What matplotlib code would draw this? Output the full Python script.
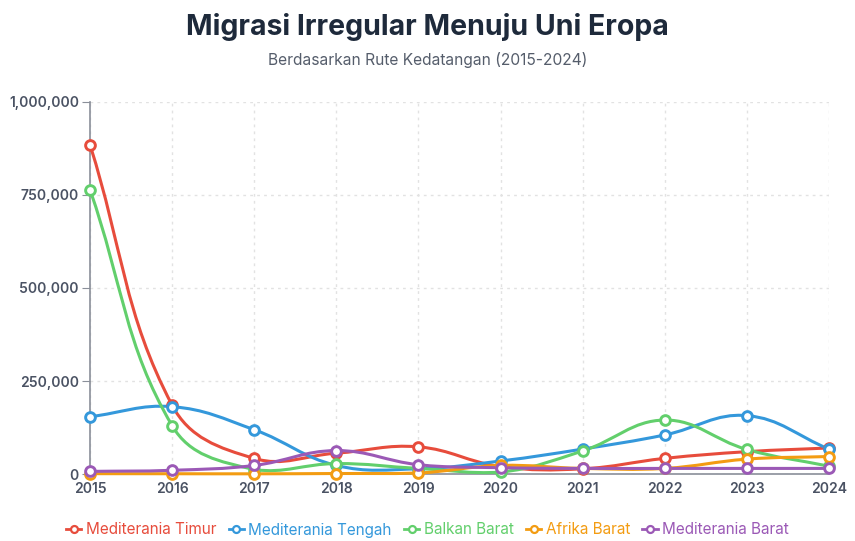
import numpy as np
import matplotlib
matplotlib.use("Agg")
import matplotlib.pyplot as plt
from matplotlib.path import Path
from matplotlib.patches import PathPatch
from matplotlib.lines import Line2D
from matplotlib.ticker import FuncFormatter

years = [2015, 2016, 2017, 2018, 2019, 2020, 2021, 2022, 2023, 2024]
series_names = ["Mediterania Timur", "Mediterania Tengah", "Balkan Barat", "Afrika Barat", "Mediterania Barat"]
med_timur = [885000, 185000, 42000, 56000, 73000, 20000, 14000, 42000, 60000, 70000]
med_tengah = [154000, 181000, 119000, 23000, 14000, 35000, 67000, 105000, 157000, 67000]
balkan_barat = [764000, 130000, 12000, 28000, 15000, 5000, 62000, 145000, 66000, 21000]
afrika_barat = [900, 700, 500, 1300, 2700, 23000, 15000, 15000, 40000, 47000]
med_barat = [7000, 10000, 23000, 63000, 25000, 17000, 15000, 15000, 15000, 15000]
colors = ["#e74c3c", "#3498db", "#62cf6c", "#f39c12", "#9b59b6"]
data = [med_timur, med_tengah, balkan_barat, afrika_barat, med_barat]
y_ticks = [0, 250000, 500000, 750000, 1000000]

plt.rcParams['font.family'] = ['Inter', 'DejaVu Sans']

fig = plt.figure(figsize=(8.55, 5.41), dpi=100)
ax = fig.add_axes([90/855, 1-474/541, (829-90)/855, (474-102)/541])
ax.set_xlim(years[0], years[-1])
ax.set_ylim(0, 1000000)

def spline_path(xs, ys, tension=0.4):
    pts = ax.transData.transform(np.column_stack([xs, ys]))
    n = len(pts)
    bb = ax.bbox
    cps = []
    for i in range(n):
        p0 = pts[i-1] if i > 0 else pts[i]
        p1 = pts[i]
        p2 = pts[i+1] if i < n-1 else pts[i]
        d01 = np.hypot(*(p1-p0))
        d12 = np.hypot(*(p2-p1))
        tot = d01 + d12
        s01 = d01/tot if tot else 0
        s12 = d12/tot if tot else 0
        prev = p1 - tension*s01*(p2-p0)
        nxt = p1 + tension*s12*(p2-p0)
        prev = np.array([np.clip(prev[0], bb.x0, bb.x1), np.clip(prev[1], bb.y0, bb.y1)])
        nxt = np.array([np.clip(nxt[0], bb.x0, bb.x1), np.clip(nxt[1], bb.y0, bb.y1)])
        cps.append((prev, nxt))
    verts = [pts[0]]
    codes = [Path.MOVETO]
    for i in range(n-1):
        verts += [cps[i][1], cps[i+1][0], pts[i+1]]
        codes += [Path.CURVE4]*3
    inv = ax.transData.inverted()
    return Path(inv.transform(np.array(verts)), codes)

for vals, c in zip(data, colors):
    p = spline_path(years, vals)
    ax.add_patch(PathPatch(p, facecolor='none', edgecolor=c, lw=2.2, zorder=3, clip_on=False))
for vals, c in zip(data, colors):
    ax.plot(years, vals, linestyle='none', marker='o', ms=7, mfc='white', mec=c, mew=2.1, zorder=4, clip_on=False)

ax.set_xticks(years)
ax.set_yticks(y_ticks)
ax.yaxis.set_major_formatter(FuncFormatter(lambda v, _: f"{int(v):,}"))
ax.grid(True, color='#e2e2e2', linestyle=(0, (2, 3)), lw=1)
for s in ['top', 'right']:
    ax.spines[s].set_visible(False)
ax.spines['left'].set_color('#8a8f99')
ax.spines['bottom'].set_color('#8a8f99')
ax.spines['left'].set_linewidth(1.2)
ax.spines['bottom'].set_linewidth(1.2)
ax.tick_params(axis='y', length=6, color='#8a8f99', labelsize=10, labelcolor='#4a5263', pad=2)
ax.tick_params(axis='x', length=0, labelsize=10, labelcolor='#4a5263', pad=6)
for lab in ax.get_xticklabels() + ax.get_yticklabels():
    lab.set_fontweight('semibold')

fig.text(0.5, 1-27/541, "Migrasi Irregular Menuju Uni Eropa", ha='center', va='center',
         fontsize=20.5, fontweight='bold', color='#1e2a3b')
fig.text(0.5, 1-60/541, "Berdasarkan Rute Kedatangan (2015-2024)", ha='center', va='center',
         fontsize=11.2, color='#555d6b')

handles = [Line2D([0], [0], color=c, lw=2, marker='o', ms=5, mfc='white', mec=c, mew=1.6)
           for c in colors]
leg = fig.legend(handles, series_names, loc='center', bbox_to_anchor=(0.5, 1-530/541), ncol=5,
                 frameon=False, fontsize=11, handlelength=1.0, handletextpad=0.3, columnspacing=0.8)
for t, c in zip(leg.get_texts(), colors):
    t.set_color(c)

fig.savefig("out.png", dpi=100)
